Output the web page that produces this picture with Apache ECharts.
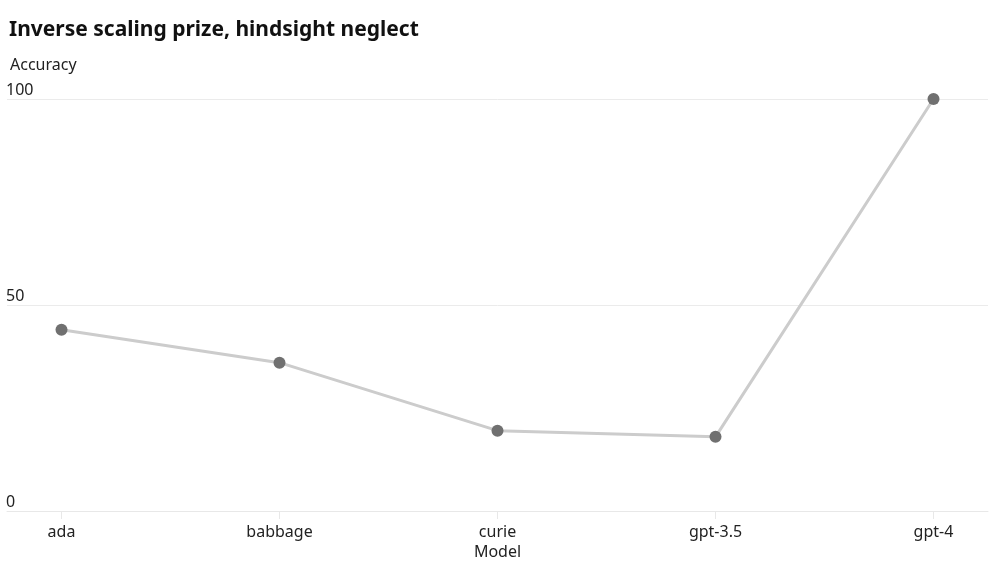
<!DOCTYPE html>
<html><head><meta charset="utf-8">
<script src="https://cdn.jsdelivr.net/npm/echarts@6/dist/echarts.min.js"></script>
<style>html,body{margin:0;padding:0;background:#fff}#c{width:1000px;height:566px}</style>
</head><body><div id="c"></div>
<script>
const categories = ['ada', 'babbage', 'curie', 'gpt-3.5', 'gpt-4'];
const accuracy = [44, 36, 19.5, 18, 100];
const yTicks = [0, 50, 100];

const chart = echarts.init(document.getElementById('c'));
const font = '"Noto Sans", "Liberation Sans", Arial, sans-serif';
const idx = categories.map((_, i) => i);
chart.setOption({
  animation: false,
  textStyle: { fontFamily: font },
  title: [{
    text: 'Inverse scaling prize, hindsight neglect',
    left: 4, top: 15,
    textStyle: { fontSize: 21, fontWeight: 'bold', color: '#111', fontFamily: font }
  }, {
    text: 'Accuracy',
    left: 5, top: 52,
    textStyle: { fontSize: 16, fontWeight: 'normal', color: '#222', fontFamily: font }
  }],
  grid: { left: 7, right: 12, top: 99, bottom: 55, containLabel: false },
  xAxis: {
    type: 'value', min: -0.25, max: 4.25,
    name: 'Model', nameLocation: 'middle', nameGap: 32,
    nameTextStyle: { fontSize: 16, color: '#222' },
    axisLine: { show: true, lineStyle: { color: '#e8e8e8' } },
    axisTick: { show: true, customValues: idx, length: 8, lineStyle: { color: '#e8e8e8' } },
    axisLabel: { customValues: idx, margin: 13, fontSize: 16, color: '#222',
      formatter: v => categories[Math.round(v)] },
    splitLine: { show: false }
  },
  yAxis: {
    type: 'value', min: 0, max: 100, interval: 50,
    axisLine: { show: false }, axisTick: { show: false },
    axisLabel: { inside: true, margin: -1, verticalAlign: 'bottom', fontSize: 16, color: '#222',
      customValues: yTicks, padding: [0, 0, 1, 0] },
    splitLine: { show: true, lineStyle: { color: '#ebebeb' } }
  },
  series: [{
    type: 'line',
    data: accuracy.map((v, i) => [i, v]),
    symbol: 'circle', symbolSize: 12,
    itemStyle: { color: '#707070' },
    lineStyle: { color: '#cccccc', width: 3 }
  }]
});
</script></body></html>
